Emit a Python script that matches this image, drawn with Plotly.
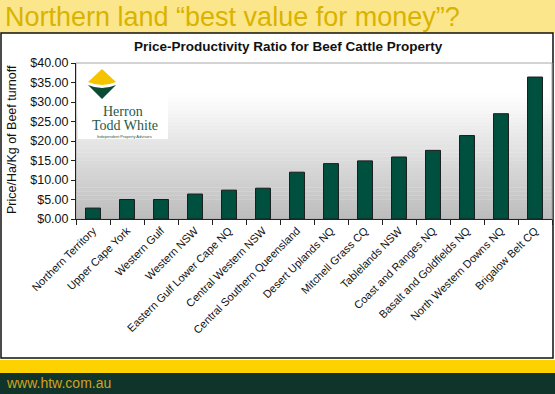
import plotly.graph_objects as go

# ---- data ----
regions = ["Northern Territory", "Upper Cape York", "Western Gulf", "Western NSW",
           "Eastern Gulf Lower Cape NQ", "Central Western NSW", "Central Southern Queensland",
           "Desert Uplands NQ", "Mitchell Grass CQ", "Tablelands NSW", "Coast and Ranges NQ",
           "Basalt and Goldfields NQ", "North Western Downs NQ", "Brigalow Belt CQ"]
ratio = [2.8, 5.0, 5.0, 6.4, 7.4, 7.9, 12.0, 14.2, 14.9, 15.9, 17.6, 21.4, 27.0, 36.4]
y_ticks = [0, 5, 10, 15, 20, 25, 30, 35, 40]
y_tick_labels = ["$%.2f" % v for v in y_ticks]

W, H = 555, 394
L, R, T, B = 76, 552, 63, 219  # plot area in pixels

def px(x):
    return (x - L) / (R - L)

def py(y):
    return (B - y) / (B - T)

fig = go.Figure()
fig.add_trace(go.Bar(
    x=regions, y=ratio,
    marker=dict(color="#00503f", line=dict(color="#1c1c1c", width=1)),
    width=0.44,
))

shapes = []
shapes.append(dict(type="rect", xref="paper", yref="paper", x0=px(0), x1=px(W), y0=py(0), y1=py(33),
                   fillcolor="#fce68c", line=dict(width=0), layer="below"))
shapes.append(dict(type="rect", xref="paper", yref="paper", x0=px(1), x1=px(553), y0=py(33), y1=py(358),
                   fillcolor="white", line=dict(color="#111111", width=1.5), layer="below"))
shapes.append(dict(type="rect", xref="paper", yref="paper", x0=px(0), x1=px(W), y0=py(360), y1=py(373),
                   fillcolor="#fed200", line=dict(width=0), layer="below"))
shapes.append(dict(type="rect", xref="paper", yref="paper", x0=px(0), x1=px(W), y0=py(373), y1=py(H),
                   fillcolor="#10342a", line=dict(width=0), layer="below"))

n = 40
for i in range(n):
    f0 = i / n
    f1 = (i + 1) / n
    t = (1 - (f0 + f1) / 2)
    t = max(0.0, (t - 0.2) / 0.8)
    g = int(round(255 - t * (255 - 188)))
    shapes.append(dict(type="rect", xref="paper", yref="paper", x0=0, x1=1, y0=f0, y1=f1 + 0.002,
                       fillcolor="rgb(%d,%d,%d)" % (g, g, g), line=dict(width=0), layer="below"))
shapes.append(dict(type="rect", xref="paper", yref="paper", x0=0, x1=1, y0=0, y1=1,
                   fillcolor="rgba(0,0,0,0)", line=dict(color="#a8a8a8", width=1), layer="below"))

shapes.append(dict(type="rect", xref="paper", yref="paper", x0=px(78), x1=px(168), y0=py(139), y1=py(64),
                   fillcolor="white", line=dict(width=0), layer="below"))
shapes.append(dict(type="path", xref="paper", yref="paper",
                   path="M %f,%f L %f,%f Q %f,%f %f,%f L %f,%f Z" % (
                       px(102), py(69), px(116), py(82), px(102), py(88), px(88), py(82), px(102), py(69)),
                   fillcolor="#f5c400", line=dict(width=0), layer="below"))
shapes.append(dict(type="path", xref="paper", yref="paper",
                   path="M %f,%f Q %f,%f %f,%f L %f,%f Z" % (
                       px(88), py(85), px(102), py(91), px(116), py(85), px(102), py(99)),
                   fillcolor="#0b4a35", line=dict(width=0), layer="below"))

annotations = [
    dict(text="Northern land \u201cbest value for money\u201d?", xref="paper", yref="paper",
         x=px(3), y=py(17), xanchor="left", yanchor="middle", showarrow=False,
         font=dict(family="Liberation Sans, Arial", size=27, color="#d9b300")),
    dict(text="<b>Price-Productivity Ratio for Beef Cattle Property</b>", xref="paper", yref="paper",
         x=px(288), y=py(47), xanchor="center", yanchor="middle", showarrow=False,
         font=dict(family="Liberation Sans, Arial", size=13.5, color="#111111")),
    dict(text="Price/Ha/Kg of Beef turnoff", xref="paper", yref="paper", textangle=-90,
         x=px(12), y=py(140), xanchor="center", yanchor="middle", showarrow=False,
         font=dict(family="Liberation Sans, Arial", size=12.5, color="#111111")),
    dict(text="Herron", xref="paper", yref="paper", x=px(123), y=py(111), xanchor="center",
         yanchor="middle", showarrow=False,
         font=dict(family="Liberation Serif, Times New Roman", size=14, color="#1f5a48")),
    dict(text="Todd White", xref="paper", yref="paper", x=px(125), y=py(125), xanchor="center",
         yanchor="middle", showarrow=False,
         font=dict(family="Liberation Serif, Times New Roman", size=14, color="#1f5a48")),
    dict(text="Independent Property Advisors", xref="paper", yref="paper", x=px(124), y=py(136),
         xanchor="center", yanchor="middle", showarrow=False,
         font=dict(family="Liberation Sans, Arial", size=4, color="#1f5a48")),
    dict(text="www.htw.com.au", xref="paper", yref="paper", x=px(4), y=py(383),
         xanchor="left", yanchor="middle", showarrow=False,
         font=dict(family="Liberation Sans, Arial", size=14, color="#d2a21c")),
]

fig.update_layout(
    width=W, height=H,
    margin=dict(l=L, r=W - R, t=T, b=H - B, autoexpand=False),
    paper_bgcolor="white", plot_bgcolor="rgba(0,0,0,0)",
    showlegend=False,
    shapes=shapes, annotations=annotations,
    xaxis=dict(tickangle=-45, tickson="boundaries", ticks="outside", ticklen=5, automargin=False,
               tickcolor="#222222", showline=True, linecolor="#222222", linewidth=1,
               showgrid=False, tickfont=dict(family="Liberation Sans, Arial", size=11, color="#111111"),
               range=[-0.5, len(regions) - 0.5]),
    yaxis=dict(range=[0, 40], tickvals=y_ticks, ticktext=y_tick_labels, ticks="outside", ticklen=4,
               automargin=False,
               tickcolor="#222222", showline=True, linecolor="#222222", linewidth=1,
               showgrid=False, zeroline=False,
               tickfont=dict(family="Liberation Sans, Arial", size=12.5, color="#111111")),
    bargap=0.56,
)

fig.write_html("out.html", config={"displayModeBar": False},
               post_script="document.body.style.margin='0';document.body.style.overflow='hidden';")
